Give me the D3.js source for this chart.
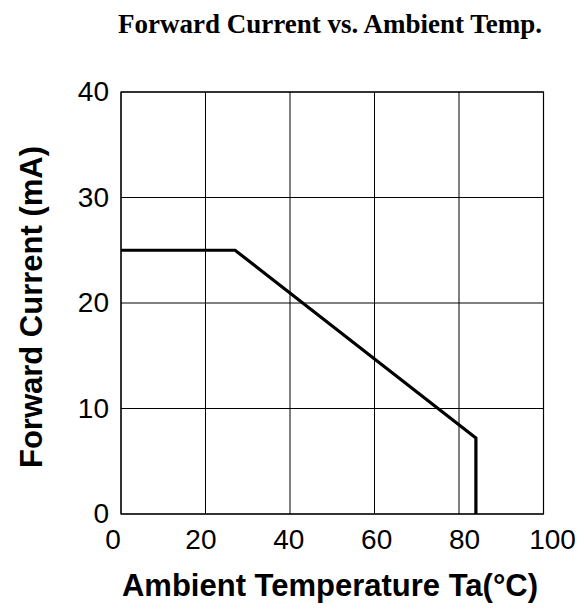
<!DOCTYPE html>
<html>
<head>
<meta charset="utf-8">
<script src="https://cdn.jsdelivr.net/npm/d3@7"></script>
<style>
  body { margin: 0; background: #fff; }
  text { fill: #000; }
</style>
</head>
<body>
<svg id="chart" width="585" height="610"></svg>
<script>
// derating curve
const tempC = [0, 27, 84, 84];
const currentMA = [25, 25, 7.2, 0];
const xTicks = [0, 20, 40, 60, 80, 100];
const yTicks = [0, 10, 20, 30, 40];

const svg = d3.select("#chart");
const plotL = 121, plotR = 543.5, plotT = 92, plotB = 514;

const x = d3.scaleLinear().domain([0, 100]).range([plotL, plotR]);
const y = d3.scaleLinear().domain([0, 40]).range([plotB, plotT]);
// the x tick labels sit a little wider apart than the grid
const xLab = d3.scaleLinear().domain([0, 100]).range([112.5, 552]);

// grid
svg.append("g")
  .selectAll("line")
  .data(xTicks)
  .enter()
  .append("line")
  .attr("x1", d => x(d)).attr("x2", d => x(d))
  .attr("y1", plotT).attr("y2", plotB)
  .attr("stroke", "#000").attr("stroke-width", 1);

svg.append("g")
  .selectAll("line")
  .data(yTicks)
  .enter()
  .append("line")
  .attr("x1", plotL).attr("x2", plotR)
  .attr("y1", d => y(d)).attr("y2", d => y(d))
  .attr("stroke", "#000").attr("stroke-width", 1);

// frame
svg.append("rect")
  .attr("x", plotL).attr("y", plotT)
  .attr("width", plotR - plotL).attr("height", plotB - plotT)
  .attr("fill", "none").attr("stroke", "#000").attr("stroke-width", 1.2);

// tick labels
const xAxis = svg.append("g")
  .attr("transform", `translate(0,${plotB})`)
  .call(d3.axisBottom(xLab).tickValues(xTicks).tickSize(0).tickPadding(15));
const yAxis = svg.append("g")
  .attr("transform", `translate(${plotL},0)`)
  .call(d3.axisLeft(y).tickValues(yTicks).tickSize(0).tickPadding(12));
[xAxis, yAxis].forEach(a => {
  a.select(".domain").remove();
  a.selectAll("text")
    .attr("font-family", "Liberation Sans, Arial, sans-serif")
    .attr("font-size", 28)
    .attr("fill", "#000");
});

// curve
const pts = tempC.map((t, i) => [t, currentMA[i]]);
svg.append("path")
  .datum(pts)
  .attr("d", d3.line().x(d => x(d[0])).y(d => y(d[1])))
  .attr("fill", "none")
  .attr("stroke", "#000")
  .attr("stroke-width", 3.2);

// titles
svg.append("text")
  .attr("x", 330).attr("y", 33)
  .attr("text-anchor", "middle")
  .attr("font-family", "Liberation Serif, Times New Roman, serif")
  .attr("font-weight", "bold")
  .attr("font-size", 27)
  .text("Forward Current vs. Ambient Temp.");

svg.append("text")
  .attr("x", 330).attr("y", 596)
  .attr("text-anchor", "middle")
  .attr("font-family", "Liberation Sans, Arial, sans-serif")
  .attr("font-weight", "bold")
  .attr("font-size", 31)
  .text("Ambient Temperature Ta(°C)");

svg.append("text")
  .attr("transform", "translate(42,307) rotate(-90)")
  .attr("text-anchor", "middle")
  .attr("font-family", "Liberation Sans, Arial, sans-serif")
  .attr("font-weight", "bold")
  .attr("font-size", 31)
  .text("Forward Current (mA)");
</script>
</body>
</html>
